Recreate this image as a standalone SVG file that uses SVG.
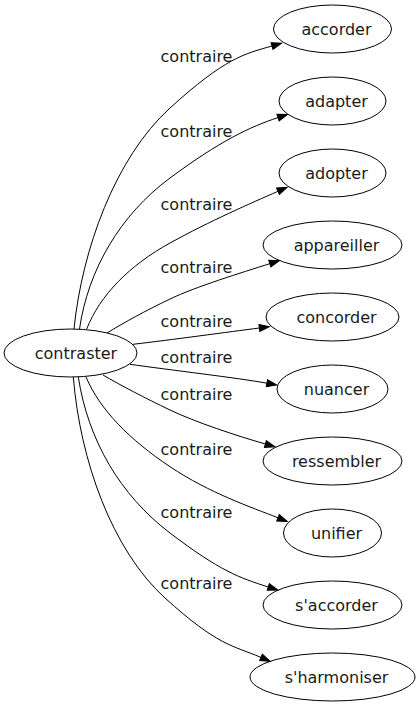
<svg xmlns="http://www.w3.org/2000/svg" width="420" height="707" viewBox="0 0 420 707">
<style>
.n ellipse{fill:none;stroke:#000;stroke-width:1}
text{font-family:"DejaVu Sans",sans-serif;font-size:16px;fill:#1a1a1a;text-anchor:middle}
#edges path{fill:none;stroke:#000;stroke-width:1;marker-end:url(#ah)}
</style>
<defs>
<marker id="ah" markerUnits="userSpaceOnUse" markerWidth="11" markerHeight="8" refX="0" refY="3.5" orient="auto" overflow="visible">
<path d="M0,0 L10,3.5 L0,7 z" fill="#000" stroke="#000" stroke-width="1"/>
</marker>
</defs>
<rect width="420" height="707" fill="#fff"/>
<g id="edges">
<path d="M74,329 C82,250 115,158 170,108 S244.2,53.9 272,46"/>
<path d="M79.5,329 C88,270 120,215 170,178 S250,126.8 278,117.6"/>
<path d="M86.7,329 C100,295 130,265 170,243 S250.6,203.3 278,191.3"/>
<path d="M107,333 C125,322 145,311 170,299 S241.2,272.7 269.8,263.7"/>
<path d="M133,344.3 C170,340 229.6,331.8 259.4,328"/>
<path d="M130,364.3 C170,370 237.4,377.8 266.9,383.2"/>
<path d="M103,375 C120,385 145,398 170,410 S236.6,435.75 265.4,444"/>
<path d="M86,377 C100,410 130,440 170,466.7 S250.9,507 278,517.8"/>
<path d="M78.3,377 C88,440 120,495 170,533 S239.2,577.7 268.3,587"/>
<path d="M73.3,377 C80,460 112,550 165,598 S232.4,645.3 261,657.4"/>
<text x="196.5" y="62">contraire</text>
<text x="196.5" y="136.5">contraire</text>
<text x="196.5" y="210">contraire</text>
<text x="196.5" y="273">contraire</text>
<text x="196.5" y="327">contraire</text>
<text x="196.5" y="362.5">contraire</text>
<text x="196.5" y="400">contraire</text>
<text x="196.5" y="455">contraire</text>
<text x="196.5" y="518">contraire</text>
<text x="196.5" y="589">contraire</text>
</g>
<g id="contraster" class="n"><ellipse cx="70.5" cy="353" rx="66.5" ry="24"/><text x="76" y="358.5">contraster</text></g>
<g id="accorder" class="n"><ellipse cx="332.5" cy="29" rx="59" ry="24"/><text x="336.5" y="34.5">accorder</text></g>
<g id="adapter" class="n"><ellipse cx="332.5" cy="101" rx="53.5" ry="24"/><text x="336.5" y="106.5">adapter</text></g>
<g id="adopter" class="n"><ellipse cx="332.5" cy="173" rx="53.5" ry="24"/><text x="336.5" y="178.5">adopter</text></g>
<g id="appareiller" class="n"><ellipse cx="332.5" cy="245" rx="69.5" ry="24"/><text x="336.5" y="250.5">appareiller</text></g>
<g id="concorder" class="n"><ellipse cx="332.5" cy="317" rx="66.5" ry="24"/><text x="336.5" y="322.5">concorder</text></g>
<g id="nuancer" class="n"><ellipse cx="332.5" cy="389" rx="55.5" ry="24"/><text x="336.5" y="394.5">nuancer</text></g>
<g id="ressembler" class="n"><ellipse cx="332.5" cy="461" rx="69.5" ry="24"/><text x="336.5" y="466.5">ressembler</text></g>
<g id="unifier" class="n"><ellipse cx="332.5" cy="533" rx="49" ry="24"/><text x="336.5" y="538.5">unifier</text></g>
<g id="saccorder" class="n"><ellipse cx="332.5" cy="605" rx="69.5" ry="24"/><text x="336.5" y="610.5">s'accorder</text></g>
<g id="sharmoniser" class="n"><ellipse cx="332.5" cy="677" rx="82.5" ry="24"/><text x="336.5" y="682.5">s'harmoniser</text></g>
</svg>
